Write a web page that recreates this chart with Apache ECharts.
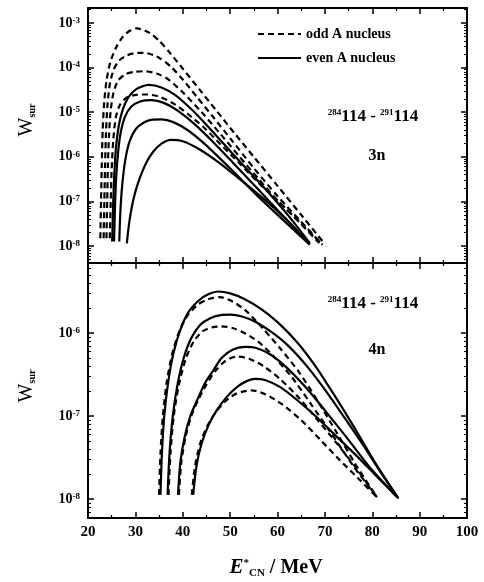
<!DOCTYPE html>
<html>
<head>
<meta charset="utf-8">
<title>W_sur vs E*CN</title>
<script src="https://cdn.jsdelivr.net/npm/echarts@6.0.0/dist/echarts.min.js"></script>
<style>
    html, body { margin: 0; padding: 0; background: #fff; }
    #box { width: 484px; height: 582px; }
</style>
</head>
<body>
<div id="box"></div>
<script>
    // x axis (E*CN / MeV)
    var xMin = 20, xMax = 100, xStep = 10;
    // y ranges of the two log panels
    var y3nMin = 4.17e-9, y3nMax = 2.17e-3;
    var y4nMin = 5.9e-9, y4nMax = 6.97e-6;

    // ---- 3n panel, odd A (dashed) : [E, Wsur]
    var odd3n_1 = [[22.6,1.5e-8],[22.75,1.0e-7],[22.9,6.3e-7],[23.1,4.0e-6],[23.4,1.58e-5],[23.9,5.0e-5],[24.7,1.32e-4],[25.9,2.8e-4],[27.4,5.0e-4],[29,6.9e-4],[30.3,7.6e-4],[33,6.0e-4],[35,4.0e-4],[37,2.34e-4],[40,9.5e-5],[43.6,3.16e-5],[47,1.12e-5],[51,3.3e-6],[55,1.0e-6],[60,2.24e-7],[65,5.0e-8],[69.8,1.17e-8]];
    var odd3n_2 = [[23.3,1.5e-8],[23.45,1.0e-7],[23.6,6.3e-7],[23.8,3.5e-6],[24.1,1.41e-5],[24.6,4.2e-5],[25.4,8.9e-5],[26.6,1.45e-4],[28.3,1.9e-4],[30.5,2.14e-4],[32.5,2.1e-4],[35,1.66e-4],[37.5,1.05e-4],[40,5.4e-5],[43,2.2e-5],[46.5,7.6e-6],[50.5,2.24e-6],[55,5.6e-7],[60,1.32e-7],[65,3.5e-8],[69.5,1.07e-8]];
    var odd3n_3 = [[23.9,1.5e-8],[24.05,1.0e-7],[24.2,6.3e-7],[24.45,3.2e-6],[24.8,1.12e-5],[25.4,2.8e-5],[26.4,5.2e-5],[28,7.2e-5],[30,8.1e-5],[32,8.3e-5],[34.5,7.4e-5],[37,5.4e-5],[40,2.8e-5],[44,1.0e-5],[48,3.2e-6],[52,1.0e-6],[56,3.2e-7],[60,1.05e-7],[65,3.2e-8],[69,1.2e-8]];
    var odd3n_4 = [[24.6,1.5e-8],[24.8,1.0e-7],[25.0,5.6e-7],[25.35,2.5e-6],[25.9,7.9e-6],[26.8,1.51e-5],[28.2,2.14e-5],[30.2,2.45e-5],[32.5,2.5e-5],[35,2.24e-5],[38,1.58e-5],[41,9.3e-6],[44.5,4.5e-6],[48,1.9e-6],[52,7.1e-7],[56,2.6e-7],[60,1.05e-7],[64.5,3.5e-8],[68.8,1.17e-8]];

    // ---- 3n panel, even A (solid)
    var even3n_1 = [[25.1,1.26e-8],[25.3,7.9e-8],[25.55,4.0e-7],[25.9,1.58e-6],[26.5,5.0e-6],[27.3,1.12e-5],[28.5,2.14e-5],[30.2,3.3e-5],[32.8,4.1e-5],[35.5,3.6e-5],[38.5,2.4e-5],[42,1.12e-5],[46,4.0e-6],[50,1.35e-6],[54,4.7e-7],[58,1.62e-7],[62.5,4.5e-8],[66.8,1.17e-8]];
    var even3n_2 = [[25.5,1.26e-8],[25.7,7.9e-8],[25.95,3.5e-7],[26.35,1.26e-6],[26.9,3.5e-6],[27.8,7.9e-6],[29.1,1.32e-5],[31,1.74e-5],[33.4,1.86e-5],[36,1.62e-5],[39,1.07e-5],[42.5,5.4e-6],[46.5,2.1e-6],[50.5,7.6e-7],[54.5,2.7e-7],[58.5,9.5e-8],[62.5,3.4e-8],[66.8,1.1e-8]];
    var even3n_3 = [[26.6,1.26e-8],[26.85,6.3e-8],[27.25,2.5e-7],[27.9,8.9e-7],[28.8,2.24e-6],[30.1,4.2e-6],[31.8,5.9e-6],[33.6,6.8e-6],[35.6,6.9e-6],[38,6.0e-6],[41,4.0e-6],[44.5,2.0e-6],[48.5,7.9e-7],[52.5,3.0e-7],[56.5,1.12e-7],[61,4.0e-8],[66.8,1.07e-8]];
    var even3n_4 = [[28.2,1.15e-8],[28.6,2.8e-8],[29.2,7.1e-8],[30.0,1.66e-7],[31.0,3.5e-7],[32.3,7.4e-7],[33.8,1.32e-6],[35.6,2.0e-6],[37.5,2.4e-6],[40,2.24e-6],[43.5,1.48e-6],[47.5,7.6e-7],[51.5,3.5e-7],[55.5,1.58e-7],[59.5,6.8e-8],[63.2,2.8e-8],[66.8,1.1e-8]];

    // ---- 4n panel, odd A (dashed)
    var odd4n_1 = [[35.0,1.12e-8],[35.3,3.5e-8],[35.8,1.0e-7],[36.6,2.5e-7],[37.7,5.4e-7],[39.2,1.02e-6],[41,1.62e-6],[43.2,2.2e-6],[45.5,2.57e-6],[47.8,2.7e-6],[50.5,2.4e-6],[53.5,1.82e-6],[57,1.12e-6],[60.5,6.6e-7],[64.5,3.4e-7],[68.5,1.51e-7],[72.5,6.3e-8],[76.5,2.6e-8],[81,1.05e-8]];
    var odd4n_2 = [[37.0,1.12e-8],[37.4,3.5e-8],[38.1,1.0e-7],[39.2,2.4e-7],[40.6,4.8e-7],[42.3,7.9e-7],[44.2,1.05e-6],[46.2,1.17e-6],[48.2,1.2e-6],[50.5,1.15e-6],[53,1.0e-6],[56,7.8e-7],[59.5,5.0e-7],[63,2.95e-7],[67,1.41e-7],[71,6.6e-8],[76,2.5e-8],[81,1.05e-8]];
    var odd4n_3 = [[39.2,1.12e-8],[39.7,2.8e-8],[40.6,5.6e-8],[41.8,1.0e-7],[43.3,1.58e-7],[45,2.4e-7],[46.9,3.5e-7],[49,4.6e-7],[51.4,5.2e-7],[54,4.9e-7],[57,4.0e-7],[60.5,2.8e-7],[64.5,1.66e-7],[68.5,8.9e-8],[72.5,4.7e-8],[76.5,2.4e-8],[81,1.05e-8]];
    var odd4n_4 = [[41.9,1.12e-8],[42.6,2.5e-8],[43.7,4.7e-8],[45.2,7.6e-8],[47,1.12e-7],[49,1.51e-7],[51.3,1.86e-7],[54.5,2.04e-7],[57.5,1.82e-7],[61,1.38e-7],[65,8.9e-8],[69,5.2e-8],[73,3.0e-8],[77,1.78e-8],[81,1.05e-8]];

    // ---- 4n panel, even A (solid)
    var even4n_1 = [[35.3,1.12e-8],[35.6,3.5e-8],[36.1,1.0e-7],[36.9,2.5e-7],[38.0,5.6e-7],[39.5,1.1e-6],[41.3,1.82e-6],[43.5,2.5e-6],[45.5,2.95e-6],[47.5,3.16e-6],[50,3.0e-6],[53,2.57e-6],[56.5,1.95e-6],[60,1.35e-6],[64,7.9e-7],[68,4.0e-7],[72,1.78e-7],[76,7.6e-8],[80.5,2.8e-8],[85.5,1.02e-8]];
    var even4n_2 = [[36.8,1.12e-8],[37.2,3.5e-8],[37.9,1.0e-7],[38.9,2.4e-7],[40.2,5.0e-7],[41.8,8.7e-7],[43.7,1.26e-6],[45.8,1.51e-6],[48,1.64e-6],[50,1.66e-6],[52.5,1.58e-6],[55.5,1.35e-6],[59,1.0e-6],[62.5,6.8e-7],[66.5,3.8e-7],[70.5,1.9e-7],[74.5,8.9e-8],[78.5,4.1e-8],[82,2.0e-8],[85.5,1.02e-8]];
    var even4n_3 = [[39.0,1.12e-8],[39.5,2.8e-8],[40.4,5.6e-8],[41.6,1.0e-7],[43.1,1.58e-7],[44.7,2.5e-7],[46.4,3.5e-7],[48.2,5.0e-7],[50.5,6.3e-7],[53.1,6.8e-7],[55.5,6.6e-7],[58.5,5.5e-7],[62,3.8e-7],[66,2.2e-7],[70,1.17e-7],[74.5,5.6e-8],[79.5,2.4e-8],[85.5,1.02e-8]];
    var even4n_4 = [[42.2,1.12e-8],[42.9,2.5e-8],[44,4.7e-8],[45.5,7.9e-8],[47.3,1.2e-7],[49.3,1.7e-7],[51.5,2.24e-7],[53.5,2.63e-7],[55.3,2.8e-7],[57.5,2.7e-7],[60.5,2.24e-7],[64,1.58e-7],[68,1.0e-7],[72,6.0e-8],[76.5,3.4e-8],[81,1.86e-8],[85.5,1.02e-8]];

    var FONT = 'Liberation Serif';
    var myChart = echarts.init(document.getElementById('box'));

    function curve(name, data, dashed, xi, yi) {
        return {
            name: name,
            type: 'line',
            xAxisIndex: xi,
            yAxisIndex: yi,
            data: data,
            symbol: 'none',
            showSymbol: false,
            smooth: 0.25,
            lineStyle: { color: '#000', width: 2.2, type: dashed ? [6, 4] : 'solid' },
            itemStyle: { color: '#000' },
            z: dashed ? 3 : 2
        };
    }

    function powLabel(v) {
        var e = Math.log10(v);
        if (Math.abs(e - Math.round(e)) > 0.01) return '';
        return '{b|10}{s|' + Math.round(e) + '}';
    }

    function xAxis(grid, pos, labels) {
        return {
            type: 'value', gridIndex: grid, position: pos,
            min: xMin, max: xMax, interval: xStep,
            axisLine: { show: true, onZero: false, lineStyle: { color: '#000', width: 2 } },
            axisTick: { show: true, inside: true, length: 6, lineStyle: { color: '#000', width: 1.5 } },
            minorTick: { show: true, splitNumber: 2, length: 3, lineStyle: { color: '#000', width: 1.2 } },
            axisLabel: { show: labels, color: '#000', fontFamily: FONT, fontWeight: 'bold', fontSize: 15, margin: 7 },
            splitLine: { show: false }
        };
    }

    function yAxis(grid, pos, mn, mx, labels) {
        return {
            type: 'log', logBase: 10, gridIndex: grid, position: pos,
            min: mn, max: mx,
            axisLine: { show: true, onZero: false, lineStyle: { color: '#000', width: 2 } },
            axisTick: { show: true, inside: true, length: 6, lineStyle: { color: '#000', width: 1.5 } },
            minorTick: { show: true, splitNumber: 9, length: 3, lineStyle: { color: '#000', width: 1 } },
            axisLabel: {
                show: labels, showMinLabel: false, showMaxLabel: false, margin: 8,
                formatter: powLabel,
                rich: {
                    b: { color: '#000', fontFamily: FONT, fontWeight: 'bold', fontSize: 14 },
                    s: { color: '#000', fontFamily: FONT, fontWeight: 'bold', fontSize: 9, verticalAlign: 'top' }
                }
            },
            splitLine: { show: false }
        };
    }

    var isoRich = {
        s: { fontFamily: FONT, fontSize: 9, verticalAlign: 'top', fill: '#000', fontWeight: 'bold' },
        n: { fontFamily: FONT, fontSize: 17, fill: '#000', fontWeight: 'bold' }
    };
    var wRich = {
        w: { fontFamily: FONT, fontSize: 20, fill: '#000' },
        s: { fontFamily: FONT, fontSize: 10, fill: '#000', fontWeight: 'bold', verticalAlign: 'bottom' }
    };

    var option = {
        animation: false,
        backgroundColor: '#fff',
        grid: [
            { left: 88, right: 17, top: 8, height: 255 },
            { left: 88, right: 17, top: 263, height: 255 }
        ],
        legend: {
            left: 252, top: 22, orient: 'vertical',
            itemWidth: 43, itemHeight: 14, itemGap: 10,
            selectedMode: false,
            itemStyle: { opacity: 0 },
            data: ['odd A nucleus', 'even A nucleus'],
            textStyle: { color: '#000', fontFamily: FONT, fontWeight: 'bold', fontSize: 14 }
        },
        xAxis: [
            xAxis(0, 'bottom', false),
            xAxis(0, 'top', false),
            xAxis(1, 'bottom', true),
            xAxis(1, 'top', false)
        ],
        yAxis: [
            yAxis(0, 'left', y3nMin, y3nMax, true),
            yAxis(0, 'right', y3nMin, y3nMax, false),
            yAxis(1, 'left', y4nMin, y4nMax, true),
            yAxis(1, 'right', y4nMin, y4nMax, false)
        ],
        graphic: [
            { type: 'text', x: 373, y: 117, style: { text: '{s|284}{n|114 - }{s|291}{n|114}', rich: isoRich, align: 'center', verticalAlign: 'middle' } },
            { type: 'text', x: 377, y: 156, style: { text: '3n', fontFamily: FONT, fontWeight: 'bold', fontSize: 16, fill: '#000', align: 'center', verticalAlign: 'middle' } },
            { type: 'text', x: 373, y: 304, style: { text: '{s|284}{n|114 - }{s|291}{n|114}', rich: isoRich, align: 'center', verticalAlign: 'middle' } },
            { type: 'text', x: 377, y: 350, style: { text: '4n', fontFamily: FONT, fontWeight: 'bold', fontSize: 16, fill: '#000', align: 'center', verticalAlign: 'middle' } },
            { type: 'text', x: 27, y: 120, rotation: Math.PI / 2, style: { text: '{w|W}{s|sur}', rich: wRich, align: 'center', verticalAlign: 'middle' } },
            { type: 'text', x: 27, y: 386, rotation: Math.PI / 2, style: { text: '{w|W}{s|sur}', rich: wRich, align: 'center', verticalAlign: 'middle' } },
            {
                type: 'text', x: 276, y: 568,
                style: {
                    text: '{e|E}{p|*}{c|CN}{t| / MeV}', align: 'center', verticalAlign: 'middle',
                    rich: {
                        e: { fontFamily: FONT, fontSize: 21, fontStyle: 'italic', fontWeight: 'bold', fill: '#000' },
                        p: { fontFamily: FONT, fontSize: 11, fontWeight: 'bold', fill: '#000', verticalAlign: 'top' },
                        c: { fontFamily: FONT, fontSize: 11, fontWeight: 'bold', fill: '#000', verticalAlign: 'bottom' },
                        t: { fontFamily: FONT, fontSize: 20, fontWeight: 'bold', fill: '#000' }
                    }
                }
            }
        ],
        series: [
            curve('odd A nucleus', odd3n_1, true, 0, 0),
            curve('odd A nucleus', odd3n_2, true, 0, 0),
            curve('odd A nucleus', odd3n_3, true, 0, 0),
            curve('odd A nucleus', odd3n_4, true, 0, 0),
            curve('even A nucleus', even3n_1, false, 0, 0),
            curve('even A nucleus', even3n_2, false, 0, 0),
            curve('even A nucleus', even3n_3, false, 0, 0),
            curve('even A nucleus', even3n_4, false, 0, 0),
            curve('odd A nucleus', odd4n_1, true, 2, 2),
            curve('odd A nucleus', odd4n_2, true, 2, 2),
            curve('odd A nucleus', odd4n_3, true, 2, 2),
            curve('odd A nucleus', odd4n_4, true, 2, 2),
            curve('even A nucleus', even4n_1, false, 2, 2),
            curve('even A nucleus', even4n_2, false, 2, 2),
            curve('even A nucleus', even4n_3, false, 2, 2),
            curve('even A nucleus', even4n_4, false, 2, 2)
        ]
    };
    myChart.setOption(option);
</script>
</body>
</html>
